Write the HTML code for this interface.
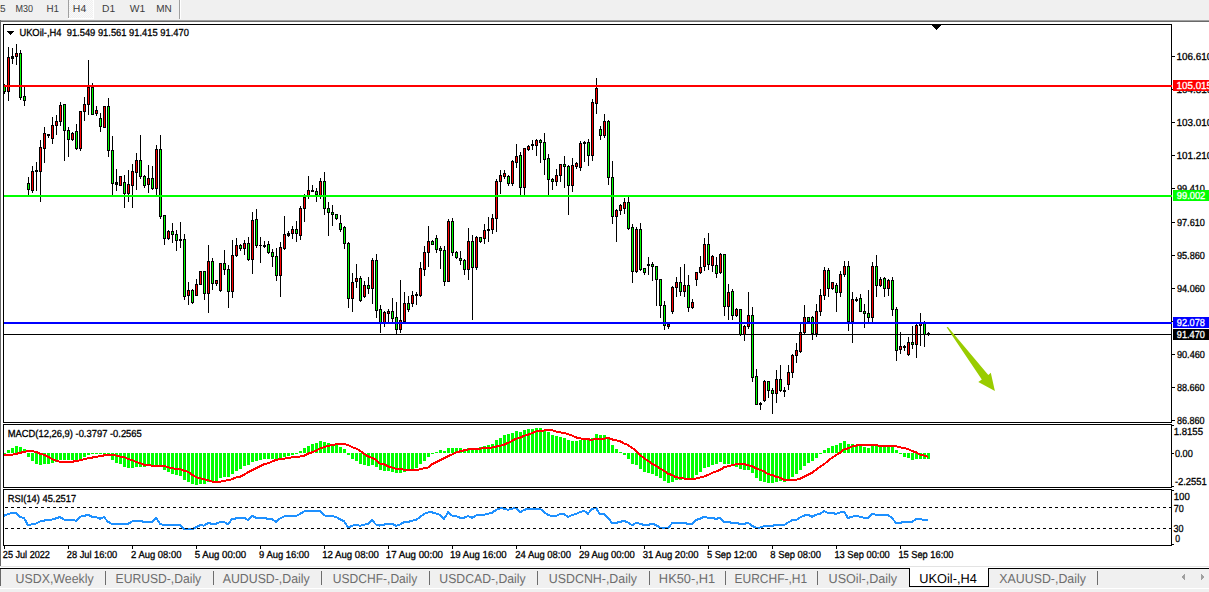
<!DOCTYPE html>
<html><head><meta charset="utf-8"><title>UKOil-,H4</title>
<style>html,body{margin:0;padding:0;background:#f0f0f0;}body{width:1209px;height:592px;overflow:hidden;}svg{display:block;font-family:"Liberation Sans", Arial, sans-serif;font-size:10px;}text{stroke:currentColor;stroke-width:0.3px;}text.t{stroke:none;}</style>
</head><body>
<svg width="1209" height="592" viewBox="0 0 1209 592" shape-rendering="crispEdges" text-rendering="geometricPrecision">
<rect x="0" y="0" width="1209" height="20" fill="#f0f0f0"/><rect x="0" y="20" width="1209" height="1" fill="#a0a0a0"/><rect x="0" y="21" width="1209" height="1" fill="#696969"/><rect x="0" y="22" width="1209" height="544" fill="#ffffff"/><rect x="0" y="20" width="1" height="546" fill="#696969"/><defs><pattern id="chk" width="2" height="2" patternUnits="userSpaceOnUse"><rect width="2" height="2" fill="#f0f0f0"/><rect width="1" height="1" fill="#fafafa"/><rect x="1" y="1" width="1" height="1" fill="#fafafa"/></pattern></defs><rect x="69" y="0" width="24" height="18" fill="url(#chk)"/><rect x="68" y="18" width="26" height="1" fill="#ffffff"/><rect x="93" y="0" width="1" height="18" fill="#ffffff"/><rect x="68" y="0" width="1" height="18" fill="#a0a0a0"/><rect x="179" y="0" width="1" height="19" fill="#a0a0a0"/><rect x="180" y="0" width="1" height="19" fill="#ffffff"/><text x="-0.07" y="12" font-size="10.2" class="t" fill="#3c3c3c" color="#3c3c3c" textLength="5.59" lengthAdjust="spacingAndGlyphs">5</text><text x="15.38" y="12" font-size="10.2" class="t" fill="#3c3c3c" color="#3c3c3c" textLength="17.54" lengthAdjust="spacingAndGlyphs">M30</text><text x="46.42" y="12" font-size="10.2" class="t" fill="#3c3c3c" color="#3c3c3c" textLength="12.52" lengthAdjust="spacingAndGlyphs">H1</text><text x="72.89" y="12" font-size="10.2" class="t" fill="#3c3c3c" color="#3c3c3c" textLength="13.38" lengthAdjust="spacingAndGlyphs">H4</text><text x="102.14" y="12" font-size="10.2" class="t" fill="#3c3c3c" color="#3c3c3c" textLength="13.14" lengthAdjust="spacingAndGlyphs">D1</text><text x="129.77" y="12" font-size="10.2" class="t" fill="#3c3c3c" color="#3c3c3c" textLength="15.44" lengthAdjust="spacingAndGlyphs">W1</text><text x="156.16" y="12" font-size="10.2" class="t" fill="#3c3c3c" color="#3c3c3c" textLength="15.47" lengthAdjust="spacingAndGlyphs">MN</text><rect x="3" y="24" width="1169" height="1" fill="#000"/><rect x="3" y="422" width="1169" height="1" fill="#000"/><rect x="3" y="24" width="1" height="399" fill="#000"/><rect x="1171" y="24" width="1" height="399" fill="#000"/><rect x="3" y="424" width="1169" height="1" fill="#000"/><rect x="3" y="487" width="1169" height="1" fill="#000"/><rect x="3" y="424" width="1" height="64" fill="#000"/><rect x="1171" y="424" width="1" height="64" fill="#000"/><rect x="3" y="489" width="1169" height="1" fill="#000"/><rect x="3" y="545" width="1169" height="1" fill="#000"/><rect x="3" y="489" width="1" height="57" fill="#000"/><rect x="1171" y="489" width="1" height="57" fill="#000"/><rect x="1172" y="56" width="3" height="1" fill="#000"/><text x="1176.46" y="60" font-size="10.2" textLength="35.75" lengthAdjust="spacingAndGlyphs">106.610</text><rect x="1172" y="89" width="3" height="1" fill="#000"/><text x="1176.46" y="93" font-size="10.2" textLength="35.75" lengthAdjust="spacingAndGlyphs">104.810</text><rect x="1172" y="122" width="3" height="1" fill="#000"/><text x="1176.46" y="126" font-size="10.2" textLength="35.75" lengthAdjust="spacingAndGlyphs">103.010</text><rect x="1172" y="155" width="3" height="1" fill="#000"/><text x="1176.46" y="159" font-size="10.2" textLength="35.75" lengthAdjust="spacingAndGlyphs">101.210</text><rect x="1172" y="188" width="3" height="1" fill="#000"/><text x="1176.95" y="192" font-size="10.2" textLength="28.01" lengthAdjust="spacingAndGlyphs">99.410</text><rect x="1172" y="222" width="3" height="1" fill="#000"/><text x="1176.95" y="226" font-size="10.2" textLength="28.01" lengthAdjust="spacingAndGlyphs">97.610</text><rect x="1172" y="255" width="3" height="1" fill="#000"/><text x="1176.95" y="259" font-size="10.2" textLength="28.01" lengthAdjust="spacingAndGlyphs">95.860</text><rect x="1172" y="288" width="3" height="1" fill="#000"/><text x="1176.95" y="292" font-size="10.2" textLength="28.01" lengthAdjust="spacingAndGlyphs">94.060</text><rect x="1172" y="321" width="3" height="1" fill="#000"/><text x="1176.95" y="325" font-size="10.2" textLength="28.01" lengthAdjust="spacingAndGlyphs">92.260</text><rect x="1172" y="354" width="3" height="1" fill="#000"/><text x="1176.95" y="358" font-size="10.2" textLength="28.01" lengthAdjust="spacingAndGlyphs">90.460</text><rect x="1172" y="387" width="3" height="1" fill="#000"/><text x="1176.89" y="391" font-size="10.2" textLength="27.67" lengthAdjust="spacingAndGlyphs">88.660</text><rect x="1172" y="420" width="3" height="1" fill="#000"/><text x="1176.89" y="424" font-size="10.2" textLength="27.67" lengthAdjust="spacingAndGlyphs">86.860</text><g><path d="M4,84h1v10h-1zM4,86h2v6h-2zM8,47h1v54h-1zM7,57h3v35h-3zM12,48h1v16h-1zM11,56h3v3h-3zM16,44h1v21h-1zM15,53h3v4h-3zM20,50h1v50h-1zM19,53h3v45h-3zM24,87h1v19h-1zM23,96h3v5h-3zM28,177h1v19h-1zM27,183h3v7h-3zM32,166h1v27h-1zM31,171h3v20h-3zM36,162h1v29h-1zM35,170h3v2h-3zM40,140h1v62h-1zM39,147h3v25h-3zM44,127h1v36h-1zM43,133h3v16h-3zM48,134h1v4h-1zM47,134h3v2h-3zM52,117h1v27h-1zM51,125h3v14h-3zM56,115h1v20h-1zM55,121h3v5h-3zM60,102h1v24h-1zM59,105h3v17h-3zM64,104h1v57h-1zM63,104h3v27h-3zM68,127h1v30h-1zM67,130h3v10h-3zM72,132h1v9h-1zM71,133h3v7h-3zM76,124h1v26h-1zM75,131h3v18h-3zM80,111h1v40h-1zM79,111h3v38h-3zM84,97h1v24h-1zM83,104h3v8h-3zM88,60h1v55h-1zM87,87h3v18h-3zM92,83h1v32h-1zM91,87h3v28h-3zM96,106h1v10h-1zM95,110h3v4h-3zM100,113h1v19h-1zM99,118h3v9h-3zM104,106h1v22h-1zM103,106h3v22h-3zM108,98h1v59h-1zM107,106h3v45h-3zM112,136h1v60h-1zM111,150h3v34h-3zM116,169h1v22h-1zM115,182h3v3h-3zM120,176h1v10h-1zM119,176h3v10h-3zM124,175h1v33h-1zM123,182h3v12h-3zM128,170h1v32h-1zM127,184h3v10h-3zM132,164h1v44h-1zM131,171h3v15h-3zM136,153h1v37h-1zM135,160h3v13h-3zM140,135h1v44h-1zM139,160h3v17h-3zM144,175h1v13h-1zM143,176h3v10h-3zM148,165h1v28h-1zM147,178h3v7h-3zM152,166h1v24h-1zM151,178h3v11h-3zM156,145h1v51h-1zM155,149h3v40h-3zM160,135h1v84h-1zM159,149h3v68h-3zM164,215h1v30h-1zM163,215h3v24h-3zM168,230h1v10h-1zM167,231h3v8h-3zM172,223h1v20h-1zM171,231h3v4h-3zM176,230h1v21h-1zM175,234h3v7h-3zM180,222h1v26h-1zM179,239h3v2h-3zM184,234h1v66h-1zM183,239h3v58h-3zM188,282h1v23h-1zM187,290h3v6h-3zM192,289h1v15h-1zM191,290h3v13h-3zM196,279h1v17h-1zM195,284h3v12h-3zM200,271h1v14h-1zM199,271h3v14h-3zM204,271h1v29h-1zM203,271h3v23h-3zM208,245h1v68h-1zM207,261h3v33h-3zM212,258h1v32h-1zM211,261h3v23h-3zM216,280h1v6h-1zM215,280h3v4h-3zM220,263h1v29h-1zM219,263h3v28h-3zM224,250h1v25h-1zM223,263h3v7h-3zM228,265h1v43h-1zM227,269h3v23h-3zM232,240h1v58h-1zM231,255h3v37h-3zM236,238h1v19h-1zM235,245h3v11h-3zM240,244h1v7h-1zM239,245h3v4h-3zM244,240h1v15h-1zM243,243h3v6h-3zM248,237h1v24h-1zM247,243h3v17h-3zM252,212h1v62h-1zM251,220h3v40h-3zM256,209h1v39h-1zM255,219h3v27h-3zM260,237h1v26h-1zM259,245h3v1h-3zM264,241h1v7h-1zM263,245h3v2h-3zM268,241h1v13h-1zM267,244h3v9h-3zM272,249h1v18h-1zM271,252h3v5h-3zM276,248h1v33h-1zM275,256h3v20h-3zM280,242h1v55h-1zM279,247h3v29h-3zM284,216h1v34h-1zM283,234h3v15h-3zM288,231h1v6h-1zM287,233h3v3h-3zM292,226h1v13h-1zM291,229h3v5h-3zM296,221h1v21h-1zM295,229h3v5h-3zM300,206h1v34h-1zM299,208h3v28h-3zM304,194h1v28h-1zM303,197h3v12h-3zM308,176h1v23h-1zM307,190h3v6h-3zM312,185h1v7h-1zM311,190h3v2h-3zM316,188h1v14h-1zM315,191h3v4h-3zM320,178h1v21h-1zM319,181h3v15h-3zM324,172h1v43h-1zM323,181h3v28h-3zM328,202h1v34h-1zM327,208h3v5h-3zM332,205h1v21h-1zM331,212h3v3h-3zM336,214h1v6h-1zM335,214h3v5h-3zM340,215h1v17h-1zM339,223h3v7h-3zM344,226h1v23h-1zM343,227h3v17h-3zM348,242h1v66h-1zM347,243h3v56h-3zM352,273h1v39h-1zM351,282h3v17h-3zM356,264h1v24h-1zM355,278h3v4h-3zM360,276h1v26h-1zM359,278h3v23h-3zM364,281h1v17h-1zM363,285h3v12h-3zM368,277h1v17h-1zM367,285h3v4h-3zM372,258h1v46h-1zM371,260h3v29h-3zM376,254h1v64h-1zM375,260h3v51h-3zM380,305h1v28h-1zM379,309h3v14h-3zM384,311h1v16h-1zM383,312h3v12h-3zM388,309h1v14h-1zM387,311h3v3h-3zM392,298h1v25h-1zM391,311h3v8h-3zM396,302h1v33h-1zM395,317h3v13h-3zM400,280h1v53h-1zM399,320h3v10h-3zM404,292h1v31h-1zM403,303h3v19h-3zM408,296h1v16h-1zM407,303h3v7h-3zM412,291h1v16h-1zM411,295h3v9h-3zM416,292h1v13h-1zM415,294h3v2h-3zM420,262h1v35h-1zM419,268h3v28h-3zM424,246h1v30h-1zM423,252h3v18h-3zM428,226h1v41h-1zM427,241h3v12h-3zM432,240h1v5h-1zM431,241h3v4h-3zM436,235h1v18h-1zM435,238h3v12h-3zM440,246h1v23h-1zM439,248h3v3h-3zM444,246h1v40h-1zM443,250h3v32h-3zM448,219h1v63h-1zM447,221h3v61h-3zM452,218h1v38h-1zM451,221h3v32h-3zM456,251h1v8h-1zM455,252h3v6h-3zM460,251h1v14h-1zM459,258h3v3h-3zM464,259h1v16h-1zM463,260h3v10h-3zM468,228h1v52h-1zM467,241h3v29h-3zM472,235h1v85h-1zM471,241h3v27h-3zM476,236h1v34h-1zM475,237h3v31h-3zM480,237h1v6h-1zM479,237h3v5h-3zM484,224h1v20h-1zM483,230h3v9h-3zM488,217h1v25h-1zM487,229h3v2h-3zM492,214h1v20h-1zM491,218h3v12h-3zM496,179h1v53h-1zM495,181h3v38h-3zM500,170h1v24h-1zM499,175h3v7h-3zM504,170h1v9h-1zM503,173h3v4h-3zM508,175h1v11h-1zM507,176h3v8h-3zM512,160h1v26h-1zM511,161h3v23h-3zM516,144h1v24h-1zM515,156h3v7h-3zM520,152h1v44h-1zM519,155h3v33h-3zM524,148h1v48h-1zM523,148h3v40h-3zM528,145h1v6h-1zM527,146h3v4h-3zM532,140h1v10h-1zM531,144h3v2h-3zM536,139h1v17h-1zM535,140h3v6h-3zM540,139h1v24h-1zM539,140h3v3h-3zM544,133h1v42h-1zM543,142h3v18h-3zM548,154h1v42h-1zM547,158h3v22h-3zM552,178h1v12h-1zM551,179h3v3h-3zM556,169h1v17h-1zM555,175h3v7h-3zM560,164h1v18h-1zM559,164h3v12h-3zM564,156h1v32h-1zM563,164h3v3h-3zM568,165h1v50h-1zM567,166h3v20h-3zM572,158h1v34h-1zM571,165h3v21h-3zM576,162h1v7h-1zM575,163h3v4h-3zM580,141h1v30h-1zM579,143h3v25h-3zM584,141h1v21h-1zM583,142h3v2h-3zM588,139h1v27h-1zM587,142h3v14h-3zM592,99h1v62h-1zM591,102h3v54h-3zM596,78h1v36h-1zM595,88h3v16h-3zM600,126h1v14h-1zM599,129h3v7h-3zM604,114h1v24h-1zM603,121h3v15h-3zM608,120h1v65h-1zM607,121h3v57h-3zM612,161h1v63h-1zM611,177h3v40h-3zM616,209h1v33h-1zM615,210h3v7h-3zM620,204h1v11h-1zM619,205h3v6h-3zM624,198h1v16h-1zM623,202h3v7h-3zM628,197h1v33h-1zM627,202h3v27h-3zM632,224h1v59h-1zM631,227h3v45h-3zM636,227h1v46h-1zM635,229h3v43h-3zM640,223h1v48h-1zM639,229h3v41h-3zM644,268h1v7h-1zM643,268h3v5h-3zM648,257h1v18h-1zM647,264h3v2h-3zM652,262h1v19h-1zM651,264h3v3h-3zM656,266h1v40h-1zM655,266h3v14h-3zM660,279h1v39h-1zM659,279h3v27h-3zM664,301h1v29h-1zM663,305h3v21h-3zM668,323h1v6h-1zM667,324h3v3h-3zM672,286h1v28h-1zM671,287h3v25h-3zM676,277h1v20h-1zM675,282h3v6h-3zM680,267h1v29h-1zM679,282h3v10h-3zM684,264h1v33h-1zM683,285h3v7h-3zM688,275h1v37h-1zM687,285h3v23h-3zM692,299h1v10h-1zM691,302h3v6h-3zM696,272h1v14h-1zM695,272h3v8h-3zM700,256h1v18h-1zM699,267h3v6h-3zM704,238h1v33h-1zM703,244h3v23h-3zM708,233h1v37h-1zM707,244h3v21h-3zM712,255h1v17h-1zM711,256h3v10h-3zM716,257h1v21h-1zM715,265h3v9h-3zM720,253h1v21h-1zM719,254h3v19h-3zM724,254h1v62h-1zM723,254h3v53h-3zM728,284h1v36h-1zM727,292h3v15h-3zM732,289h1v31h-1zM731,291h3v25h-3zM736,308h1v9h-1zM735,309h3v7h-3zM740,309h1v27h-1zM739,309h3v26h-3zM744,325h1v16h-1zM743,326h3v9h-3zM748,292h1v37h-1zM747,315h3v12h-3zM752,307h1v75h-1zM751,315h3v63h-3zM756,369h1v36h-1zM755,376h3v29h-3zM760,402h1v8h-1zM759,403h3v2h-3zM764,380h1v22h-1zM763,381h3v20h-3zM768,381h1v17h-1zM767,381h3v10h-3zM772,388h1v26h-1zM771,390h3v4h-3zM776,370h1v33h-1zM775,379h3v15h-3zM780,365h1v27h-1zM779,379h3v12h-3zM784,387h1v10h-1zM783,390h3v2h-3zM788,365h1v25h-1zM787,372h3v13h-3zM792,354h1v24h-1zM791,355h3v18h-3zM796,343h1v20h-1zM795,350h3v6h-3zM800,324h1v29h-1zM799,332h3v20h-3zM804,305h1v29h-1zM803,317h3v16h-3zM808,317h1v5h-1zM807,317h3v5h-3zM812,316h1v24h-1zM811,317h3v17h-3zM816,304h1v33h-1zM815,311h3v23h-3zM820,289h1v27h-1zM819,295h3v17h-3zM824,267h1v33h-1zM823,270h3v26h-3zM828,268h1v29h-1zM827,270h3v19h-3zM832,282h1v8h-1zM831,282h3v7h-3zM836,283h1v29h-1zM835,285h3v8h-3zM840,271h1v26h-1zM839,274h3v19h-3zM844,261h1v16h-1zM843,266h3v9h-3zM848,261h1v70h-1zM847,266h3v56h-3zM852,292h1v51h-1zM851,299h3v23h-3zM856,297h1v5h-1zM855,299h3v2h-3zM860,294h1v18h-1zM859,298h3v14h-3zM864,304h1v24h-1zM863,311h3v3h-3zM868,290h1v32h-1zM867,313h3v5h-3zM872,262h1v60h-1zM871,266h3v52h-3zM876,255h1v42h-1zM875,266h3v20h-3zM880,277h1v10h-1zM879,279h3v7h-3zM884,277h1v20h-1zM883,278h3v11h-3zM888,279h1v17h-1zM887,280h3v9h-3zM892,277h1v39h-1zM891,280h3v30h-3zM896,307h1v54h-1zM895,309h3v42h-3zM900,332h1v22h-1zM899,346h3v4h-3zM904,345h1v6h-1zM903,346h3v2h-3zM908,337h1v19h-1zM907,342h3v13h-3zM912,326h1v23h-1zM911,342h3v3h-3zM916,324h1v34h-1zM915,325h3v20h-3zM920,313h1v33h-1zM919,323h3v3h-3zM924,321h1v26h-1zM923,323h3v12h-3zM928,332h1v4h-1zM927,333h3v2h-3z" fill="#000"/><path d="M4,87h1v4h-1zM20,54h1v43h-1zM24,97h1v3h-1zM28,184h1v5h-1zM64,105h1v25h-1zM68,131h1v8h-1zM76,132h1v16h-1zM92,88h1v26h-1zM100,119h1v7h-1zM108,107h1v43h-1zM112,151h1v32h-1zM124,183h1v10h-1zM140,161h1v15h-1zM144,177h1v8h-1zM152,179h1v9h-1zM160,150h1v66h-1zM164,216h1v22h-1zM172,232h1v2h-1zM176,235h1v5h-1zM184,240h1v56h-1zM192,291h1v11h-1zM204,272h1v21h-1zM212,262h1v21h-1zM224,264h1v5h-1zM228,270h1v21h-1zM240,246h1v2h-1zM248,244h1v15h-1zM256,220h1v25h-1zM268,245h1v7h-1zM272,253h1v3h-1zM276,257h1v18h-1zM296,230h1v3h-1zM316,192h1v2h-1zM324,182h1v26h-1zM328,209h1v3h-1zM332,213h1v1h-1zM336,215h1v3h-1zM340,224h1v5h-1zM344,228h1v15h-1zM348,244h1v54h-1zM360,279h1v21h-1zM368,286h1v2h-1zM376,261h1v49h-1zM380,310h1v12h-1zM392,312h1v6h-1zM396,318h1v11h-1zM408,304h1v5h-1zM432,242h1v2h-1zM436,239h1v10h-1zM440,249h1v1h-1zM444,251h1v30h-1zM452,222h1v30h-1zM456,253h1v4h-1zM460,259h1v1h-1zM464,261h1v8h-1zM472,242h1v25h-1zM480,238h1v3h-1zM508,177h1v6h-1zM520,156h1v31h-1zM540,141h1v1h-1zM544,143h1v16h-1zM548,159h1v20h-1zM552,180h1v1h-1zM564,165h1v1h-1zM568,167h1v18h-1zM588,143h1v12h-1zM600,130h1v5h-1zM608,122h1v55h-1zM612,178h1v38h-1zM628,203h1v25h-1zM632,228h1v43h-1zM640,230h1v39h-1zM644,269h1v3h-1zM652,265h1v1h-1zM656,267h1v12h-1zM660,280h1v25h-1zM664,306h1v19h-1zM680,283h1v8h-1zM688,286h1v21h-1zM708,245h1v19h-1zM716,266h1v7h-1zM724,255h1v51h-1zM732,292h1v23h-1zM740,310h1v24h-1zM752,316h1v61h-1zM756,377h1v27h-1zM768,382h1v8h-1zM772,391h1v2h-1zM780,380h1v10h-1zM808,318h1v3h-1zM812,318h1v15h-1zM828,271h1v17h-1zM836,286h1v6h-1zM848,267h1v54h-1zM860,299h1v12h-1zM864,312h1v1h-1zM868,314h1v3h-1zM876,267h1v18h-1zM884,279h1v9h-1zM892,281h1v28h-1zM896,310h1v40h-1zM912,343h1v1h-1zM924,324h1v10h-1z" fill="#00ff00"/><path d="M8,58h1v33h-1zM16,54h1v2h-1zM32,172h1v18h-1zM40,148h1v23h-1zM44,134h1v14h-1zM52,126h1v12h-1zM56,122h1v3h-1zM60,106h1v15h-1zM72,134h1v5h-1zM80,112h1v36h-1zM84,105h1v6h-1zM88,88h1v16h-1zM96,111h1v2h-1zM104,107h1v20h-1zM120,177h1v8h-1zM128,185h1v8h-1zM132,172h1v13h-1zM136,161h1v11h-1zM148,179h1v5h-1zM156,150h1v38h-1zM168,232h1v6h-1zM188,291h1v4h-1zM196,285h1v10h-1zM200,272h1v12h-1zM208,262h1v31h-1zM216,281h1v2h-1zM220,264h1v26h-1zM232,256h1v35h-1zM236,246h1v9h-1zM244,244h1v4h-1zM252,221h1v38h-1zM280,248h1v27h-1zM284,235h1v13h-1zM292,230h1v3h-1zM300,209h1v26h-1zM304,198h1v10h-1zM308,191h1v4h-1zM320,182h1v13h-1zM352,283h1v15h-1zM356,279h1v2h-1zM364,286h1v10h-1zM372,261h1v27h-1zM384,313h1v10h-1zM388,312h1v1h-1zM400,321h1v8h-1zM404,304h1v17h-1zM412,296h1v7h-1zM420,269h1v26h-1zM424,253h1v16h-1zM428,242h1v10h-1zM448,222h1v59h-1zM468,242h1v27h-1zM476,238h1v29h-1zM484,231h1v7h-1zM492,219h1v10h-1zM496,182h1v36h-1zM500,176h1v5h-1zM504,174h1v2h-1zM512,162h1v21h-1zM516,157h1v5h-1zM524,149h1v38h-1zM528,147h1v2h-1zM536,141h1v4h-1zM556,176h1v5h-1zM560,165h1v10h-1zM572,166h1v19h-1zM576,164h1v2h-1zM580,144h1v23h-1zM592,103h1v52h-1zM596,89h1v14h-1zM604,122h1v13h-1zM616,211h1v5h-1zM620,206h1v4h-1zM624,203h1v5h-1zM636,230h1v41h-1zM668,325h1v1h-1zM672,288h1v23h-1zM676,283h1v4h-1zM684,286h1v5h-1zM692,303h1v4h-1zM696,273h1v6h-1zM700,268h1v4h-1zM704,245h1v21h-1zM712,257h1v8h-1zM720,255h1v17h-1zM728,293h1v13h-1zM736,310h1v5h-1zM744,327h1v7h-1zM748,316h1v10h-1zM764,382h1v18h-1zM776,380h1v13h-1zM788,373h1v11h-1zM792,356h1v16h-1zM796,351h1v4h-1zM800,333h1v18h-1zM804,318h1v14h-1zM816,312h1v21h-1zM820,296h1v15h-1zM824,271h1v24h-1zM832,283h1v5h-1zM840,275h1v17h-1zM844,267h1v7h-1zM852,300h1v21h-1zM872,267h1v50h-1zM880,280h1v5h-1zM888,281h1v7h-1zM900,347h1v2h-1zM908,343h1v11h-1zM916,326h1v18h-1zM920,324h1v1h-1z" fill="#ff0000"/><path d="M4,453h2v1h-2zM7,450h3v3h-3zM11,448h3v5h-3zM15,446h3v7h-3zM19,447h3v6h-3zM23,449h3v4h-3zM27,453h3v4h-3zM31,453h3v8h-3zM35,453h3v11h-3zM39,453h3v12h-3zM43,453h3v11h-3zM47,453h3v11h-3zM51,453h3v10h-3zM55,453h3v9h-3zM59,453h3v7h-3zM63,453h3v7h-3zM67,453h3v7h-3zM71,453h3v7h-3zM75,453h3v7h-3zM79,453h3v6h-3zM83,453h3v4h-3zM87,453h3v2h-3zM91,453h3v1h-3zM95,453h3v1h-3zM99,453h3v1h-3zM103,453h3v1h-3zM107,453h3v1h-3zM111,453h3v7h-3zM115,453h3v10h-3zM119,453h3v11h-3zM123,453h3v14h-3zM127,453h3v15h-3zM131,453h3v15h-3zM135,453h3v14h-3zM139,453h3v14h-3zM143,453h3v14h-3zM147,453h3v13h-3zM151,453h3v12h-3zM155,453h3v12h-3zM159,453h3v12h-3zM163,453h3v17h-3zM167,453h3v19h-3zM171,453h3v21h-3zM175,453h3v22h-3zM179,453h3v23h-3zM183,453h3v27h-3zM187,453h3v29h-3zM191,453h3v31h-3zM195,453h3v32h-3zM199,453h3v31h-3zM203,453h3v31h-3zM207,453h3v29h-3zM211,453h3v29h-3zM215,453h3v28h-3zM219,453h3v25h-3zM223,453h3v24h-3zM227,453h3v24h-3zM231,453h3v21h-3zM235,453h3v18h-3zM239,453h3v16h-3zM243,453h3v13h-3zM247,453h3v12h-3zM251,453h3v9h-3zM255,453h3v8h-3zM259,453h3v7h-3zM263,453h3v6h-3zM267,453h3v6h-3zM271,453h3v6h-3zM275,453h3v7h-3zM279,453h3v6h-3zM283,453h3v4h-3zM287,453h3v3h-3zM291,453h3v2h-3zM295,453h3v1h-3zM299,451h3v2h-3zM303,448h3v5h-3zM307,446h3v7h-3zM311,444h3v9h-3zM315,443h3v10h-3zM319,441h3v12h-3zM323,442h3v11h-3zM327,443h3v10h-3zM331,444h3v9h-3zM335,445h3v8h-3zM339,447h3v6h-3zM343,449h3v4h-3zM347,453h3v2h-3zM351,453h3v6h-3zM355,453h3v8h-3zM359,453h3v11h-3zM363,453h3v12h-3zM367,453h3v13h-3zM371,453h3v12h-3zM375,453h3v14h-3zM379,453h3v17h-3zM383,453h3v18h-3zM387,453h3v18h-3zM391,453h3v19h-3zM395,453h3v20h-3zM399,453h3v20h-3zM403,453h3v19h-3zM407,453h3v16h-3zM411,453h3v16h-3zM415,453h3v15h-3zM419,453h3v11h-3zM423,453h3v8h-3zM427,453h3v4h-3zM431,453h3v1h-3zM435,452h3v1h-3zM439,450h3v3h-3zM443,451h3v2h-3zM447,448h3v5h-3zM451,448h3v5h-3zM455,448h3v5h-3zM459,448h3v5h-3zM463,449h3v4h-3zM467,448h3v5h-3zM471,449h3v4h-3zM475,449h3v4h-3zM479,447h3v6h-3zM483,446h3v7h-3zM487,445h3v8h-3zM491,444h3v9h-3zM495,440h3v13h-3zM499,438h3v15h-3zM503,435h3v18h-3zM507,434h3v19h-3zM511,433h3v20h-3zM515,431h3v22h-3zM519,432h3v21h-3zM523,430h3v23h-3zM527,429h3v24h-3zM531,429h3v24h-3zM535,428h3v25h-3zM539,428h3v25h-3zM543,430h3v23h-3zM547,432h3v21h-3zM551,435h3v18h-3zM555,436h3v17h-3zM559,437h3v16h-3zM563,438h3v15h-3zM567,440h3v13h-3zM571,441h3v12h-3zM575,441h3v12h-3zM579,440h3v13h-3zM583,440h3v13h-3zM587,440h3v13h-3zM591,438h3v15h-3zM595,434h3v19h-3zM599,435h3v18h-3zM603,435h3v18h-3zM607,439h3v14h-3zM611,445h3v8h-3zM615,449h3v4h-3zM619,452h3v1h-3zM623,453h3v2h-3zM627,453h3v6h-3zM631,453h3v11h-3zM635,453h3v12h-3zM639,453h3v16h-3zM643,453h3v19h-3zM647,453h3v20h-3zM651,453h3v21h-3zM655,453h3v23h-3zM659,453h3v25h-3zM663,453h3v28h-3zM667,453h3v30h-3zM671,453h3v29h-3zM675,453h3v27h-3zM679,453h3v27h-3zM683,453h3v26h-3zM687,453h3v25h-3zM691,453h3v25h-3zM695,453h3v22h-3zM699,453h3v19h-3zM703,453h3v15h-3zM707,453h3v14h-3zM711,453h3v12h-3zM715,453h3v11h-3zM719,453h3v9h-3zM723,453h3v11h-3zM727,453h3v11h-3zM731,453h3v13h-3zM735,453h3v14h-3zM739,453h3v16h-3zM743,453h3v17h-3zM747,453h3v17h-3zM751,453h3v20h-3zM755,453h3v25h-3zM759,453h3v28h-3zM763,453h3v29h-3zM767,453h3v30h-3zM771,453h3v30h-3zM775,453h3v29h-3zM779,453h3v28h-3zM783,453h3v29h-3zM787,453h3v27h-3zM791,453h3v24h-3zM795,453h3v21h-3zM799,453h3v17h-3zM803,453h3v13h-3zM807,453h3v10h-3zM811,453h3v8h-3zM815,453h3v5h-3zM819,453h3v1h-3zM823,450h3v3h-3zM827,448h3v5h-3zM831,446h3v7h-3zM835,445h3v8h-3zM839,443h3v10h-3zM843,441h3v12h-3zM847,444h3v9h-3zM851,444h3v9h-3zM855,446h3v7h-3zM859,446h3v7h-3zM863,447h3v6h-3zM867,448h3v5h-3zM871,446h3v7h-3zM875,446h3v7h-3zM879,447h3v6h-3zM883,447h3v6h-3zM887,447h3v6h-3zM891,447h3v6h-3zM895,450h3v3h-3zM899,453h3v1h-3zM903,453h3v4h-3zM907,453h3v5h-3zM911,453h3v7h-3zM915,453h3v6h-3zM919,453h3v6h-3zM923,453h3v6h-3zM927,453h3v6h-3z" fill="#00ff00"/><polyline points="4,455.1 8,455.1 12,454.7 16,453.9 20,452.9 24,451.9 28,451.1 32,451.1 36,451.9 40,453.7 44,454.9 48,456.8 52,459.0 56,460.6 60,461.8 64,462.0 68,462.0 72,461.8 76,461.0 80,460.3 84,459.3 88,458.3 92,457.6 96,456.8 100,456.3 104,455.4 108,454.7 112,454.7 116,455.4 120,456.6 124,457.0 128,459.0 132,460.0 136,462.0 140,463.0 144,464.8 148,465.3 152,465.6 156,465.6 160,465.6 164,465.8 168,467.3 172,468.3 176,468.8 180,469.0 184,470.7 188,471.9 192,474.7 196,477.2 200,478.2 204,479.2 208,480.2 212,481.5 216,481.9 220,481.7 224,480.7 228,480.2 232,479.2 236,477.4 240,476.7 244,474.7 248,472.2 252,470.2 256,468.3 260,466.3 264,464.3 268,463.3 272,461.6 276,459.8 280,459.3 284,458.6 288,458.0 292,457.3 296,456.8 300,456.6 304,455.7 308,453.7 312,452.4 316,450.7 320,448.4 324,447.1 328,446.1 332,445.1 336,444.4 340,443.7 344,443.9 348,445.1 352,447.1 356,448.4 360,450.7 364,453.9 368,456.3 372,457.8 376,459.8 380,463.6 384,464.3 388,466.3 392,467.6 396,468.8 400,469.0 404,469.7 408,469.9 412,469.9 416,469.9 420,469.3 424,468.3 428,467.6 432,464.3 436,462.3 440,460.3 444,458.3 448,456.3 452,454.4 456,452.4 460,451.4 464,450.4 468,449.5 472,448.8 476,448.8 480,448.8 484,447.6 488,447.6 492,447.6 496,446.6 500,445.9 504,444.7 508,442.9 512,440.9 516,438.7 520,437.7 524,435.9 528,434.7 532,433.1 536,431.5 540,430.8 544,430.5 548,430.0 552,430.2 556,431.5 560,432.2 564,433.1 568,434.1 572,435.4 576,437.4 580,438.4 584,438.8 588,439.4 592,439.7 596,439.1 600,438.7 604,438.7 608,437.9 612,439.4 616,440.4 620,441.1 624,443.4 628,444.9 632,447.9 636,450.8 640,455.1 644,458.1 648,460.8 652,463.8 656,465.8 660,468.5 664,470.7 668,473.7 672,475.0 676,477.2 680,477.9 684,478.5 688,478.9 692,478.9 696,478.5 700,477.5 704,476.5 708,474.9 712,472.9 716,471.5 720,470.0 724,467.3 728,466.3 732,465.3 736,464.3 740,463.8 744,464.0 748,465.3 752,466.3 756,468.3 760,469.8 764,471.2 768,474.2 772,474.9 776,476.7 780,477.9 784,479.7 788,479.9 792,479.9 796,479.7 800,478.7 804,476.7 808,474.9 812,472.7 816,469.8 820,466.8 824,464.4 828,460.8 832,457.8 836,455.1 840,452.8 844,449.5 848,448.4 852,446.4 856,445.6 860,444.8 864,444.8 868,444.8 872,444.8 876,445.1 880,445.9 884,445.9 888,445.9 892,445.9 896,446.1 900,447.4 904,448.1 908,448.9 912,451.0 916,452.3 920,454.6 924,455.6 928,456.8" fill="none" stroke="#ff0000" stroke-width="2" stroke-linejoin="round"/><polyline points="4,515.8 8,514.1 12,512.9 16,512.9 20,517.3 24,517.8 28,525.3 32,524.3 36,523.6 40,521.6 44,520.6 48,519.8 52,519.6 56,518.3 60,517.1 64,519.6 68,519.8 72,519.8 76,520.8 80,516.7 84,515.9 88,514.9 92,516.8 96,517.0 100,518.8 104,517.1 108,521.8 112,524.0 116,524.0 120,524.0 124,524.0 128,524.0 132,521.4 136,520.8 140,520.8 144,522.0 148,522.0 152,522.0 156,517.9 160,523.9 164,525.0 168,525.0 172,525.0 176,525.0 180,525.0 184,529.2 188,529.3 192,529.3 196,527.2 200,525.2 204,525.6 208,523.0 212,523.8 216,523.8 220,522.0 224,522.0 228,524.2 232,519.2 236,518.4 240,517.8 244,517.8 248,520.0 252,515.7 256,517.8 260,517.8 264,517.8 268,519.0 272,519.0 276,521.9 280,518.4 284,516.5 288,515.9 292,515.9 296,515.9 300,514.0 304,511.5 308,510.9 312,510.9 316,510.9 320,510.9 324,515.3 328,515.9 332,515.9 336,517.0 340,519.2 344,521.2 348,527.5 352,525.8 356,524.8 360,525.8 364,524.7 368,523.9 372,520.3 376,524.5 380,525.6 384,524.6 388,523.8 392,523.8 396,525.8 400,524.6 404,522.0 408,522.0 412,520.8 416,519.9 420,517.0 424,513.9 428,512.4 432,512.4 436,513.4 440,514.8 444,519.0 448,512.3 452,515.6 456,516.0 460,517.8 464,517.8 468,516.0 472,517.8 476,515.6 480,514.7 484,514.7 488,513.9 492,512.7 496,510.0 500,508.3 504,508.6 508,509.9 512,508.7 516,507.9 520,512.5 524,510.0 528,508.7 532,508.7 536,508.7 540,508.7 544,511.8 548,515.1 552,515.9 556,515.9 560,514.1 564,514.1 568,516.9 572,515.0 576,514.1 580,512.0 584,510.9 588,513.7 592,509.2 596,507.9 600,514.1 604,514.1 608,517.7 612,522.8 616,522.8 620,522.0 624,520.8 628,522.5 632,525.3 636,522.9 640,523.8 644,525.0 648,525.0 652,523.8 656,525.0 660,527.7 664,528.0 668,528.0 672,523.3 676,522.8 680,522.8 684,522.8 688,524.0 692,524.0 696,520.0 700,518.7 704,516.8 708,517.8 712,517.8 716,519.0 720,517.8 724,522.0 728,522.0 732,522.8 736,522.8 740,524.0 744,524.0 748,522.8 752,525.9 756,527.6 760,527.6 764,526.1 768,525.8 772,525.8 776,525.0 780,525.0 784,525.0 788,522.6 792,520.2 796,520.0 800,517.6 804,515.6 808,514.9 812,516.8 816,514.7 820,513.9 824,511.2 828,512.9 832,512.9 836,513.9 840,512.6 844,511.7 848,518.0 852,516.8 856,515.9 860,516.8 864,517.8 868,517.8 872,513.7 876,514.9 880,514.9 884,514.9 888,514.9 892,518.1 896,522.8 900,522.8 904,522.0 908,522.0 912,522.0 916,519.2 920,519.0 924,520.0 928,520.0" fill="none" stroke="#1e90ff" stroke-width="2" stroke-linejoin="round"/></g><rect x="4" y="85" width="1168" height="2" fill="#ff0000"/><rect x="4" y="195" width="1168" height="2" fill="#00ff00"/><rect x="4" y="322" width="1168" height="2" fill="#0000ff"/><rect x="4" y="334" width="1167" height="1" fill="#000"/><rect x="1173" y="80" width="36" height="11" fill="#ff0000"/><text x="1176.46" y="89" font-size="10.2" fill="#fff" color="#fff" textLength="35.62" lengthAdjust="spacingAndGlyphs">105.015</text><rect x="1173" y="190" width="36" height="11" fill="#00ff00"/><text x="1176.85" y="199" font-size="10.2" fill="#fff" color="#fff" textLength="28.46" lengthAdjust="spacingAndGlyphs">99.002</text><rect x="1173" y="317" width="36" height="11" fill="#0000ff"/><text x="1176.85" y="326" font-size="10.2" fill="#fff" color="#fff" textLength="28.09" lengthAdjust="spacingAndGlyphs">92.078</text><rect x="1173" y="329" width="36" height="11" fill="#000000"/><text x="1176.85" y="338" font-size="10.2" fill="#fff" color="#fff" textLength="28.08" lengthAdjust="spacingAndGlyphs">91.470</text><path d="M7,31h7v1h-1v1h-1v1h-1v1h-1v-1h-1v-1h-1v-1h-1z" fill="#000"/><text x="19.38" y="36" font-size="10.2" textLength="169.56" lengthAdjust="spacingAndGlyphs">UKOil-,H4 &#160;91.549 91.561 91.415 91.470</text><path d="M932,25h9v1h-1v1h-1v1h-1v1h-1v1h-1v-1h-1v-1h-1v-1h-1v-1h-1z" fill="#000"/><polygon shape-rendering="geometricPrecision" points="946.6,327.3 947.9,326.9 988.3,374.9 990.8,372.8 994.9,390.9 978.3,382.0 981.8,379.6" fill="#99cc00"/><rect x="1172" y="425" width="2" height="1" fill="#000"/><rect x="1172" y="453" width="2" height="1" fill="#000"/><rect x="1172" y="486" width="2" height="1" fill="#000"/><text x="7.74" y="437" font-size="10.2" textLength="134.05" lengthAdjust="spacingAndGlyphs">MACD(12,26,9) -0.3797 -0.2565</text><text x="7.86" y="502" font-size="10.2" textLength="68.21" lengthAdjust="spacingAndGlyphs">RSI(14) 45.2517</text><text x="1173.66" y="435" font-size="10.2" textLength="29.35" lengthAdjust="spacingAndGlyphs">1.8155</text><text x="1174.96" y="457" font-size="10.2" textLength="17.88" lengthAdjust="spacingAndGlyphs">0.00</text><text x="1174.89" y="485" font-size="10.2" textLength="31.82" lengthAdjust="spacingAndGlyphs">-2.2551</text><text x="1173.75" y="500" font-size="10.2" textLength="16.06" lengthAdjust="spacingAndGlyphs">100</text><text x="1173.8" y="512" font-size="10.2" textLength="10.02" lengthAdjust="spacingAndGlyphs">70</text><text x="1173.38" y="532" font-size="10.2" textLength="10.08" lengthAdjust="spacingAndGlyphs">30</text><text x="1175.13" y="542" font-size="10.2" textLength="4.82" lengthAdjust="spacingAndGlyphs">0</text><rect x="1172" y="490" width="2" height="1" fill="#000"/><rect x="1172" y="544" width="2" height="1" fill="#000"/><path d="M5,507.5H1171M5,528.5H1171" stroke="#000" stroke-dasharray="3,3" fill="none"/><rect x="4" y="546" width="1" height="3" fill="#000"/><text x="2.83" y="558" font-size="10.2" textLength="47.11" lengthAdjust="spacingAndGlyphs">25 Jul 2022</text><rect x="68" y="546" width="1" height="3" fill="#000"/><text x="66.84" y="558" font-size="10.2" textLength="50.41" lengthAdjust="spacingAndGlyphs">28 Jul 16:00</text><rect x="132" y="546" width="1" height="3" fill="#000"/><text x="131.12" y="558" font-size="10.2" textLength="50.34" lengthAdjust="spacingAndGlyphs">2 Aug 08:00</text><rect x="196" y="546" width="1" height="3" fill="#000"/><text x="194.71" y="558" font-size="10.2" textLength="51.47" lengthAdjust="spacingAndGlyphs">5 Aug 00:00</text><rect x="260" y="546" width="1" height="3" fill="#000"/><text x="259.09" y="558" font-size="10.2" textLength="50.26" lengthAdjust="spacingAndGlyphs">9 Aug 16:00</text><rect x="324" y="546" width="1" height="3" fill="#000"/><text x="322.16" y="558" font-size="10.2" textLength="56.72" lengthAdjust="spacingAndGlyphs">12 Aug 08:00</text><rect x="388" y="546" width="1" height="3" fill="#000"/><text x="385.72" y="558" font-size="10.2" textLength="57.32" lengthAdjust="spacingAndGlyphs">17 Aug 00:00</text><rect x="452" y="546" width="1" height="3" fill="#000"/><text x="449.95" y="558" font-size="10.2" textLength="56.73" lengthAdjust="spacingAndGlyphs">19 Aug 16:00</text><rect x="516" y="546" width="1" height="3" fill="#000"/><text x="515.34" y="558" font-size="10.2" textLength="55.61" lengthAdjust="spacingAndGlyphs">24 Aug 08:00</text><rect x="580" y="546" width="1" height="3" fill="#000"/><text x="578.89" y="558" font-size="10.2" textLength="55.89" lengthAdjust="spacingAndGlyphs">29 Aug 00:00</text><rect x="644" y="546" width="1" height="3" fill="#000"/><text x="642.64" y="558" font-size="10.2" textLength="56.03" lengthAdjust="spacingAndGlyphs">31 Aug 20:00</text><rect x="708" y="546" width="1" height="3" fill="#000"/><text x="706.93" y="558" font-size="10.2" textLength="50.07" lengthAdjust="spacingAndGlyphs">5 Sep 12:00</text><rect x="772" y="546" width="1" height="3" fill="#000"/><text x="770.36" y="558" font-size="10.2" textLength="50.58" lengthAdjust="spacingAndGlyphs">8 Sep 08:00</text><rect x="836" y="546" width="1" height="3" fill="#000"/><text x="834.42" y="558" font-size="10.2" textLength="55.39" lengthAdjust="spacingAndGlyphs">13 Sep 00:00</text><rect x="900" y="546" width="1" height="3" fill="#000"/><text x="898.42" y="558" font-size="10.2" textLength="55.13" lengthAdjust="spacingAndGlyphs">15 Sep 16:00</text><rect x="0" y="566" width="1209" height="1" fill="#e3e3e3"/><rect x="0" y="567" width="1209" height="1" fill="#ffffff"/><rect x="0" y="568" width="1209" height="1" fill="#000"/><rect x="0" y="569" width="1209" height="18" fill="#f0f0f0"/><rect x="0" y="569" width="1" height="17" fill="#696969"/><rect x="0" y="587" width="1209" height="1" fill="#f0f0f0"/><rect x="0" y="588" width="1209" height="1" fill="#ffffff"/><rect x="0" y="589" width="1209" height="3" fill="#f0f0f0"/><rect x="105" y="571" width="1" height="14" fill="#6d6d6d"/><rect x="213" y="571" width="1" height="14" fill="#6d6d6d"/><rect x="321" y="571" width="1" height="14" fill="#6d6d6d"/><rect x="429" y="571" width="1" height="14" fill="#6d6d6d"/><rect x="537" y="571" width="1" height="14" fill="#6d6d6d"/><rect x="649" y="571" width="1" height="14" fill="#6d6d6d"/><rect x="725" y="571" width="1" height="14" fill="#6d6d6d"/><rect x="817" y="571" width="1" height="14" fill="#6d6d6d"/><rect x="1097" y="571" width="1" height="14" fill="#6d6d6d"/><path d="M909.5,568.5 V586.5 H988.5 V568.5" fill="#fff" stroke="#000" stroke-width="1"/><rect x="910" y="568" width="78" height="1" fill="#fff"/><text x="15.55" y="583" font-size="13" class="t" fill="#6d6d6d" color="#6d6d6d" textLength="78.18" lengthAdjust="spacingAndGlyphs">USDX,Weekly</text><text x="115.56" y="583" font-size="13" class="t" fill="#6d6d6d" color="#6d6d6d" textLength="85.62" lengthAdjust="spacingAndGlyphs">EURUSD-,Daily</text><text x="222.71" y="583" font-size="13" class="t" fill="#6d6d6d" color="#6d6d6d" textLength="86.99" lengthAdjust="spacingAndGlyphs">AUDUSD-,Daily</text><text x="332.84" y="583" font-size="13" class="t" fill="#6d6d6d" color="#6d6d6d" textLength="84.34" lengthAdjust="spacingAndGlyphs">USDCHF-,Daily</text><text x="439.37" y="583" font-size="13" class="t" fill="#6d6d6d" color="#6d6d6d" textLength="86.3" lengthAdjust="spacingAndGlyphs">USDCAD-,Daily</text><text x="548.84" y="583" font-size="13" class="t" fill="#6d6d6d" color="#6d6d6d" textLength="88.06" lengthAdjust="spacingAndGlyphs">USDCNH-,Daily</text><text x="658.86" y="583" font-size="13" class="t" fill="#6d6d6d" color="#6d6d6d" textLength="56.37" lengthAdjust="spacingAndGlyphs">HK50-,H1</text><text x="734.56" y="583" font-size="13" class="t" fill="#6d6d6d" color="#6d6d6d" textLength="72.55" lengthAdjust="spacingAndGlyphs">EURCHF-,H1</text><text x="828.55" y="583" font-size="13" class="t" fill="#6d6d6d" color="#6d6d6d" textLength="68.6" lengthAdjust="spacingAndGlyphs">USOil-,Daily</text><text x="999.36" y="583" font-size="13" class="t" fill="#6d6d6d" color="#6d6d6d" textLength="86.51" lengthAdjust="spacingAndGlyphs">XAUUSD-,Daily</text><text x="919.37" y="583" font-size="13" class="t" textLength="57.41" lengthAdjust="spacingAndGlyphs">UKOil-,H4</text><polygon points="1185,574 1185,580.5 1181.8,577.2" fill="#a0a0a0"/><polygon points="1201,574 1201,580.5 1204.2,577.2" fill="#a0a0a0"/>
</svg>
</body></html>
